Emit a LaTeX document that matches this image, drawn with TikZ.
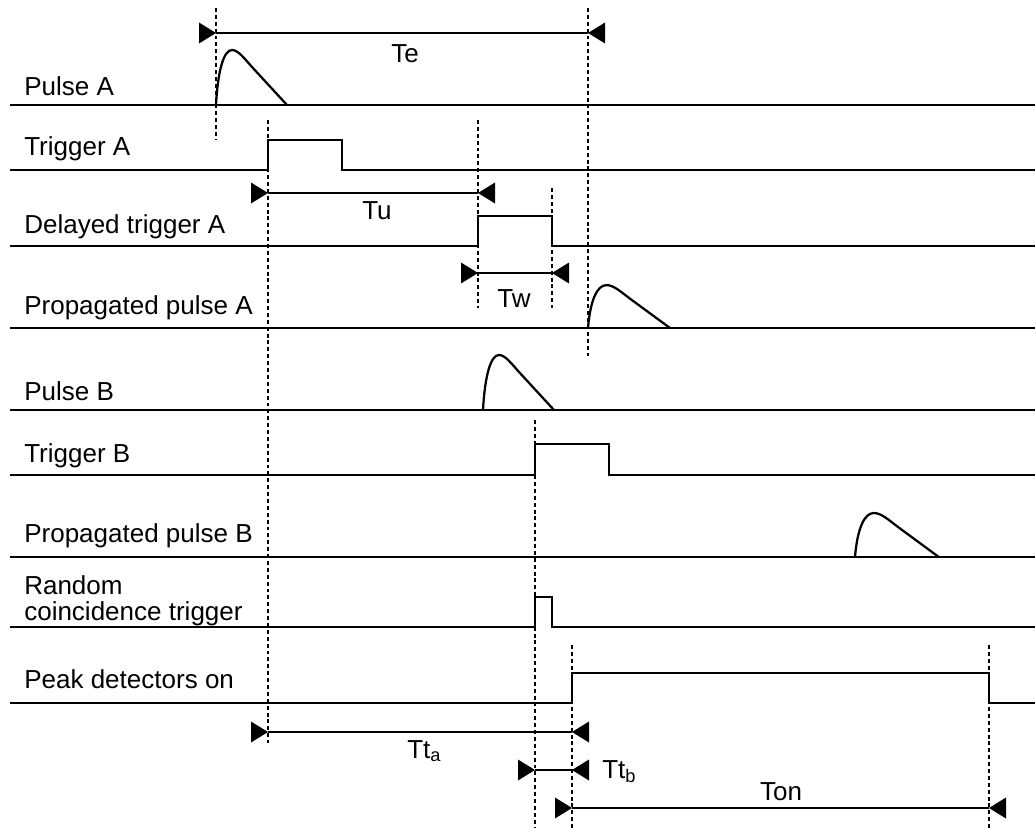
\documentclass[tikz,border=0pt]{standalone}
\usepackage{fontspec}
\setmainfont{Liberation Sans}

% span with inward triangles sitting outside both ends
\newcommand{\dimspan}[2]{%
  \draw[dimline] (#1) -- (#2);
  \fill (#1) -- ++(-17,-10.5) -- ++(0,21) -- cycle;
  \fill (#2) -- ++(17,-10.5) -- ++(0,21) -- cycle;}

\begin{document}
\begin{tikzpicture}[x=0.025cm, y=-0.025cm,
  sig/.style={line width=1.6pt},
  guide/.style={line width=0.9pt, dash pattern=on 2.8pt off 2.1pt},
  dimline/.style={line width=1.5pt},
  lbl/.style={anchor=base west, inner sep=0pt, font=\fontsize{18.5}{22}\selectfont},
  dimlbl/.style={anchor=base, inner sep=0pt, font=\fontsize{18.5}{22}\selectfont},
  pulse/.pic={\draw[sig] (0,0) .. controls (2,-36) and (8,-55) .. (16,-55)
      .. controls (22,-55) and (28,-47) .. (36,-38) -- (71,0);}]
\useasboundingbox (0,0) rectangle (1035,828);

% ===== signal names =====
\node[lbl] (pulseA) at (24,96) {Pulse A};
\node[lbl] (trigA) at (24,155) {Trigger A};
\node[lbl] (delA) at (24,233) {Delayed trigger A};
\node[lbl] (propA) at (24,314) {Propagated pulse A};
\node[lbl] (pulseB) at (24,400) {Pulse B};
\node[lbl] (trigB) at (24,462) {Trigger B};
\node[lbl] (propB) at (24,542) {Propagated pulse B};
\node[lbl] (randTop) at (24,594) {Random};
\node[lbl] (randBot) at (24,620) {coincidence trigger};
\node[lbl] (peakOn) at (24,688) {Peak detectors on};

% ===== traces =====
\draw[sig] (10,105) -- (1035,105);
\pic at (216,105) {pulse};
\draw[sig] (10,170) -- (268,170) |- (342,140) |- (1035,170);
\draw[sig] (10,246) -- (478,246) |- (552,216) |- (1035,246);
\draw[sig] (10,328) -- (1035,328);
\pic[xscale=1.155, yscale=0.78] at (588,328) {pulse};
\draw[sig] (10,410) -- (1035,410);
\pic at (483,410) {pulse};
\draw[sig] (10,475) -- (535,475) |- (609,444) |- (1035,475);
\draw[sig] (10,557) -- (1035,557);
\pic[xscale=1.18, yscale=0.8] at (855,557) {pulse};
\draw[sig] (10,627) -- (535,627) |- (552,597) |- (1035,627);
\draw[sig] (10,703) -- (572,703) |- (989,673) |- (1035,703);

% ===== dashed guides =====
\foreach \x/\ya/\yb in {216/8/140, 588/8/358, 268/120/743, 478/120/308,
    552/188/308, 535/420/828, 572/645/828, 989/645/828}
  \draw[guide] (\x,\ya) -- (\x,\yb);

% ===== time spans =====
\coordinate (teL) at (216,33);  \coordinate (teR) at (588,33);
\coordinate (tuL) at (268,193); \coordinate (tuR) at (478,193);
\coordinate (twL) at (478,273); \coordinate (twR) at (552,273);
\coordinate (taL) at (268,732); \coordinate (taR) at (572,732);
\coordinate (tbL) at (535,770); \coordinate (tbR) at (572,770);
\coordinate (onL) at (572,808); \coordinate (onR) at (989,808);
\dimspan{teL}{teR}
\dimspan{tuL}{tuR}
\dimspan{twL}{twR}
\dimspan{taL}{taR}
\dimspan{tbL}{tbR}
\dimspan{onL}{onR}
\node[dimlbl] (te) at (405,63) {Te};
\node[dimlbl] (tu) at (377,220) {Tu};
\node[dimlbl] (tw) at (514,307) {Tw};
\node[lbl] (tta) at (407,758) {Tt\textsubscript{a}};
\node[lbl] (ttb) at (602,778) {Tt\textsubscript{b}};
\node[dimlbl] (ton) at (781,800) {Ton};

\end{tikzpicture}
\end{document}
